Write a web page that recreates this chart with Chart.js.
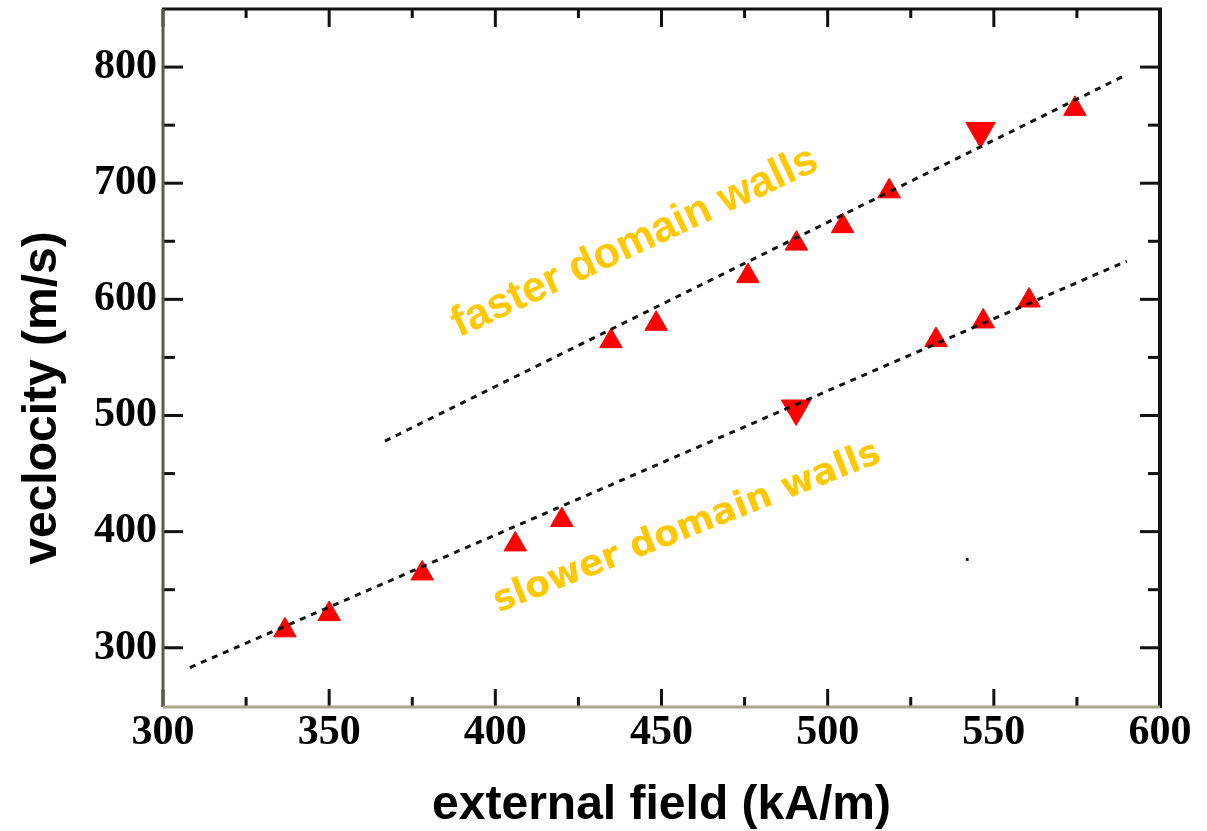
<!DOCTYPE html>
<html>
<head>
<meta charset="utf-8">
<script src="https://cdn.jsdelivr.net/npm/chart.js@4.4.1/dist/chart.umd.min.js"></script>
<style>
  html, body { margin: 0; padding: 0; background: #fff; }
  #wrap { width: 1207px; height: 831px; }
</style>
</head>
<body>
<div id="wrap"><canvas id="wallChart"></canvas></div>
<script>
// values (field in kA/m, velocity in m/s)
const fastField = [434.8, 448.4, 476, 490.6, 504.5, 518.5, 574.4]
const fastVel = [564, 579, 620, 648, 663, 693, 764]
const fastDownField = [546]
const fastDownVel = [745]

const slowField = [336.7, 350, 378, 406, 420, 532.6, 546.8, 560.6]
const slowVel = [315, 329, 364, 389, 410, 565, 581, 599]
const slowDownField = [490.5]
const slowDownVel = [506]

// dashed fit lines, start and end
const fastFitField = [366.8, 588.9]
const fastFitVel = [478, 792]
const slowFitField = [308.1, 590]
const slowFitVel = [283, 633]

// stray dot in the scan
const dotField = [542]
const dotVel = [376]

const xTicks = [300, 350, 400, 450, 500, 550, 600]
const xMinor = [325, 375, 425, 475, 525, 575]
const yTicks = [300, 400, 500, 600, 700, 800]
const yMinor = [350, 450, 550, 650, 750]

const labelTexts = ['faster domain walls', 'slower domain walls']
const labelField = [442, 457.7]
const labelVel = [649, 403]

function pts(xs, ys) {
    return xs.map((x, i) => ({x: x, y: ys[i]}))
}

// frame with inward ticks on all four sides
const framePlugin = {
    id: 'frame',
    afterDatasetsDraw(chart) {
        const ctx = chart.ctx
        const a = chart.chartArea
        const xs = chart.scales.x
        const ys = chart.scales.y
        ctx.save()
        ctx.lineCap = 'butt'
        ctx.lineWidth = 3
        ctx.strokeStyle = '#111'
        function tick(x1, y1, x2, y2) {
            ctx.beginPath(); ctx.moveTo(x1, y1); ctx.lineTo(x2, y2); ctx.stroke()
        }
        xTicks.forEach(v => {
            const p = xs.getPixelForValue(v)
            tick(p, a.bottom, p, a.bottom - 18)
            tick(p, a.top, p, a.top + 18)
        })
        xMinor.forEach(v => {
            const p = xs.getPixelForValue(v)
            tick(p, a.bottom, p, a.bottom - 10)
            tick(p, a.top, p, a.top + 9)
        })
        yTicks.forEach(v => {
            const p = ys.getPixelForValue(v)
            tick(a.left, p, a.left + 20, p)
            tick(a.right, p, a.right - 20, p)
        })
        yMinor.forEach(v => {
            const p = ys.getPixelForValue(v)
            tick(a.left, p, a.left + 12, p)
            tick(a.right, p, a.right - 12, p)
        })
        // borders: scanned left/bottom look lighter
        ctx.lineWidth = 3
        ctx.strokeStyle = '#111'
        tick(a.left - 1, a.top, a.right + 2, a.top)
        ctx.lineWidth = 4
        tick(a.right, a.top, a.right, a.bottom + 1)
        ctx.lineWidth = 3
        ctx.strokeStyle = '#5a5a50'
        tick(a.left, a.top, a.left, a.bottom)
        ctx.strokeStyle = '#aaa58c'
        tick(a.left, a.bottom, a.right, a.bottom)
        ctx.restore()
    }
}

// rotated yellow labels placed in data coordinates
const wallLabels = {
    id: 'wallLabels',
    afterDatasetsDraw(chart) {
        const ctx = chart.ctx
        const fonts = ['bold 43px "Liberation Sans", Arial, sans-serif', 'bold 36px "DejaVu Sans", sans-serif']
        const angles = [-25, -21.5]
        ctx.save()
        ctx.fillStyle = '#ffc800'
        ctx.textAlign = 'center'
        ctx.textBaseline = 'middle'
        labelTexts.forEach((t, i) => {
            const px = chart.scales.x.getPixelForValue(labelField[i])
            const py = chart.scales.y.getPixelForValue(labelVel[i])
            ctx.save()
            ctx.translate(px, py)
            ctx.rotate(angles[i] * Math.PI / 180)
            ctx.font = fonts[i]
            ctx.fillText(t, 0, 0)
            ctx.restore()
        })
        ctx.restore()
    }
}

const tickFont = {family: '"Liberation Serif", "Times New Roman", serif', size: 42, weight: 'bold'}
const titleFont = {family: '"Liberation Sans", Arial, sans-serif', size: 48, weight: 'bold'}

new Chart(document.getElementById('wallChart'), {
    type: 'scatter',
    data: {
        datasets: [
            {
                type: 'line', label: 'fast fit', data: pts(fastFitField, fastFitVel),
                borderColor: '#111', borderWidth: 3, borderDash: [6, 6],
                pointRadius: 0, fill: false, order: 0
            },
            {
                type: 'line', label: 'slow fit', data: pts(slowFitField, slowFitVel),
                borderColor: '#111', borderWidth: 3, borderDash: [6, 6],
                pointRadius: 0, fill: false, order: 0
            },
            {
                label: 'faster', data: pts(fastField, fastVel),
                pointStyle: 'triangle', pointRadius: 13, backgroundColor: '#ff0000',
                borderColor: '#ff0000', borderWidth: 1, order: 1
            },
            {
                label: 'slower', data: pts(slowField, slowVel),
                pointStyle: 'triangle', pointRadius: 13, backgroundColor: '#ff0000',
                borderColor: '#ff0000', borderWidth: 1, order: 1
            },
            {
                label: 'faster (down)', data: pts(fastDownField, fastDownVel),
                pointStyle: 'triangle', rotation: 180, pointRadius: 17, backgroundColor: '#ff0000',
                borderColor: '#ff0000', borderWidth: 1, order: 1
            },
            {
                label: 'slower (down)', data: pts(slowDownField, slowDownVel),
                pointStyle: 'triangle', rotation: 180, pointRadius: 17, backgroundColor: '#ff0000',
                borderColor: '#ff0000', borderWidth: 1, order: 1
            },
            {
                label: 'dot', data: pts(dotField, dotVel),
                pointStyle: 'rect', pointRadius: 2, backgroundColor: '#111', borderWidth: 0, order: 1
            }
        ]
    },
    options: {
        responsive: true,
        maintainAspectRatio: false,
        animation: false,
        // no auto padding for the big point radius, the frame sits at fixed pixels
        layout: {autoPadding: false, padding: {top: 9, right: 47, left: 0, bottom: 0}},
        plugins: {
            legend: {display: false},
            tooltip: {enabled: false}
        },
        scales: {
            x: {
                type: 'linear', min: 300, max: 600,
                afterBuildTicks: scale => { scale.ticks = xTicks.map(v => ({value: v})) },
                afterFit: scale => { scale.height = 124 },
                grid: {display: false, drawTicks: false},
                border: {display: false},
                ticks: {color: '#000', font: tickFont, padding: 1, maxRotation: 0},
                title: {
                    display: true, text: 'external field (kA/m)', color: '#000',
                    font: Object.assign({}, titleFont, {lineHeight: 1}), padding: {top: 0, bottom: 1}
                }
            },
            y: {
                type: 'linear', min: 249, max: 850,
                afterBuildTicks: scale => { scale.ticks = yTicks.map(v => ({value: v})) },
                afterFit: scale => { scale.width = 163 },
                grid: {display: false, drawTicks: false},
                border: {display: false},
                // tiny line height keeps the top label from pushing the plot down
                ticks: {color: '#000', font: Object.assign({}, tickFont, {lineHeight: 0.05}), padding: 6},
                title: {
                    display: true, text: 'veclocity (m/s)      ', color: '#000',
                    font: Object.assign({}, titleFont, {lineHeight: 1.2}), padding: {top: 14, bottom: 0}
                }
            }
        }
    },
    plugins: [framePlugin, wallLabels]
})
</script>
</body>
</html>
